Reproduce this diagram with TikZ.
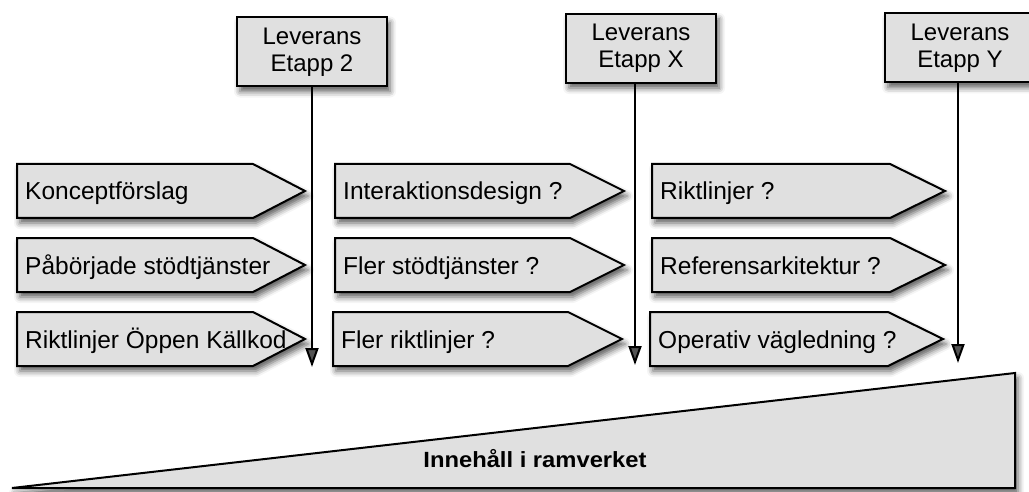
\documentclass[tikz,border=0pt]{standalone}
\usepackage{fontspec}
\setmainfont{Liberation Sans}
\usetikzlibrary{arrows.meta,shadows.blur}
\definecolor{boxgrey}{RGB}{224,224,224}

% one arrow-shaped stage: name, left x, body end x, tip x, top y, label
\newcommand\stagebox[6]{%
  \draw[stageshape] (#2,#5) -- (#3,#5) -- (#4,#5+27) -- (#3,#5+54) -- (#2,#5+54) -- cycle;
  \node[stagetext] (#1) at (#2+8,#5+36) {#6};}

\begin{document}
\begin{tikzpicture}[x=1pt,y=-1pt,
  dropshadow/.style={blur shadow={shadow xshift=3pt,shadow yshift=-5pt,shadow blur radius=6pt,shadow opacity=65}},
  milestone/.style={draw,fill=boxgrey,line width=2pt,minimum width=150pt,minimum height=69pt,
    align=center,font=\fontsize{24}{27}\selectfont,inner sep=0pt,dropshadow},
  stageshape/.style={draw,fill=boxgrey,line width=2pt,line join=miter,dropshadow},
  stagetext/.style={anchor=base west,inner sep=0pt,font=\fontsize{24.5}{27}\selectfont},
  deadline/.style={line width=2pt,-{Triangle[length=19pt,width=13pt]}}]

\useasboundingbox (0,0) rectangle (1029,492);

% delivery milestones
\node[milestone] (lev2) at (312,52)   {Leverans\\Etapp 2};
\node[milestone] (levX) at (641,48.5) {Leverans\\Etapp X};
\node[milestone] (levY) at (960,48)   {Leverans\\Etapp Y};

% stage 2
\stagebox{s1a}{17}{253}{305}{164}{Konceptförslag}
\stagebox{s1b}{17}{253}{305}{238}{Påbörjade stödtjänster}
\stagebox{s1c}{17}{253}{305}{312}{Riktlinjer Öppen Källkod}
% stage X
\stagebox{s2a}{335}{570}{624}{164}{Interaktionsdesign ?}
\stagebox{s2b}{335}{570}{624}{238}{Fler stödtjänster ?}
\stagebox{s2c}{333}{568}{622}{312}{Fler riktlinjer ?}
% stage Y
\stagebox{s3a}{652}{890}{945}{164}{Riktlinjer ?}
\stagebox{s3b}{652}{890}{945}{238}{Referensarkitektur ?}
\stagebox{s3c}{650}{888}{943}{312}{Operativ vägledning ?}

% growing content of the framework
\draw[stageshape] (12,488) -- (1015,373) -- (1015,488) -- cycle;
\node[font=\bfseries\fontsize{22}{24}\selectfont,xscale=1.08] (content) at (535,459) {Innehåll i ramverket};

% delivery deadlines
\coordinate (end2) at (312,367);
\coordinate (endX) at (635,365);
\coordinate (endY) at (958,363);
\draw[deadline] (lev2.south) -- (end2);
\draw[deadline] (levX.south -| endX) -- (endX);
\draw[deadline] (levY.south -| endY) -- (endY);
\end{tikzpicture}
\end{document}
